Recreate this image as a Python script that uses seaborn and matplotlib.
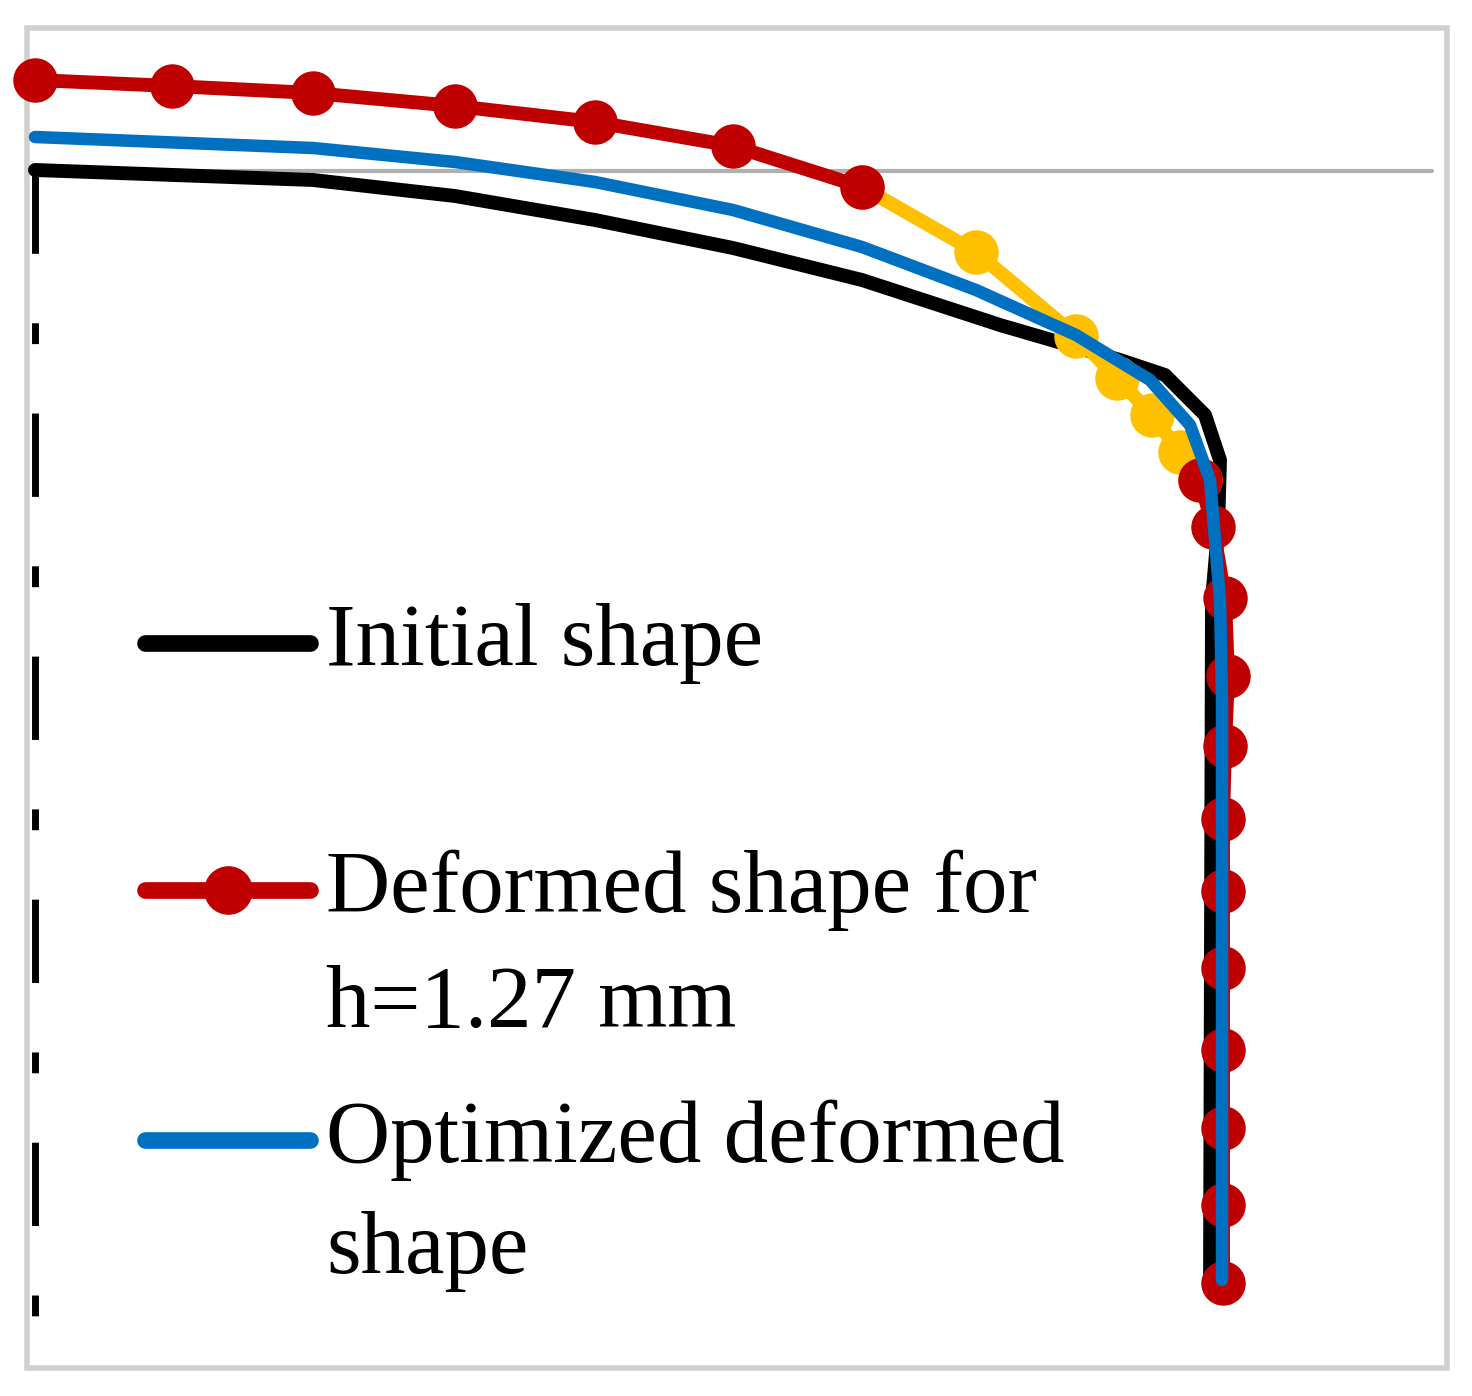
import matplotlib
matplotlib.use("Agg")
import matplotlib.pyplot as plt
import seaborn as sns
import pandas as pd

# Values (image-pixel units, y grows downward)
red_x = [35, 172, 313, 455, 595, 733, 862]
red_y = [80, 86, 93, 106, 122, 146, 187]
yel_x = [862, 976, 1076, 1117, 1152, 1180, 1200]
yel_y = [187, 252, 336, 378, 415, 452, 480]
red2_x = [1200, 1213, 1225, 1228, 1225, 1223, 1223, 1223, 1223, 1223, 1223, 1223]
red2_y = [480, 527, 598, 676, 746, 819, 891, 968, 1050, 1128, 1205, 1283]
blk_x = [35, 313, 455, 595, 733, 862, 1000, 1120, 1165, 1205, 1220, 1218, 1212, 1210]
blk_y = [170, 180, 196, 220, 248, 280, 325, 360, 375, 415, 460, 530, 600, 1290]
blu_x = [35, 313, 455, 595, 733, 862, 976, 1076, 1150, 1190, 1210, 1220, 1222, 1222]
blu_y = [137, 148, 162, 182, 210, 247, 290, 335, 380, 425, 480, 600, 700, 1280]

sns.set_style("white")
plt.rcParams["font.family"] = ["Liberation Serif", "DejaVu Serif"]

fig = plt.figure(figsize=(14.72, 13.96), dpi=100)
ax = fig.add_axes([0, 0, 1, 1])
ax.set_xlim(0, 1472)
ax.set_ylim(1396, 0)
ax.axis("off")

# frame
ax.add_patch(plt.Rectangle((27, 28), 1420, 1340, fill=False, ec="#d0d0d0", lw=4))
# grey reference line and symmetry axis
ax.plot([35, 1432], [171, 171], color="#b0b0b0", lw=3)
ax.plot([35, 35], [170, 1340], color="black", lw=5, dashes=[12, 10, 3, 10])

def line(x, y, **kw):
    sns.lineplot(data=pd.DataFrame({"x": x, "y": y}), x="x", y="y", sort=False,
                 estimator=None, ax=ax, legend=False, **kw)

line(blk_x, blk_y, color="black", lw=10)
line(yel_x, yel_y, color="#ffc000", lw=10, marker="o", markersize=32, markeredgewidth=0)
line(red2_x, red2_y, color="#c00000", lw=10, marker="o", markersize=32, markeredgewidth=0)
line(red_x, red_y, color="#c00000", lw=10, marker="o", markersize=32, markeredgewidth=0)
line(blu_x, blu_y, color="#0070c0", lw=9)

# legend drawn by hand
ax.plot([145, 310], [643, 643], color="black", lw=12, solid_capstyle="round")
ax.plot([145, 310], [890, 890], color="#c00000", lw=12, solid_capstyle="round")
ax.plot([228], [890], "o", color="#c00000", markersize=34)
ax.plot([145, 310], [1140, 1140], color="#0070c0", lw=12, solid_capstyle="round")
fs = 64
for y, s in [(643, "Initial shape"), (890, "Deformed shape for"), (1005, "h=1.27 mm"),
             (1140, "Optimized deformed"), (1252, "shape")]:
    ax.text(326, y, s, fontsize=fs, va="center", color="black")

fig.savefig("out.png", dpi=100)
